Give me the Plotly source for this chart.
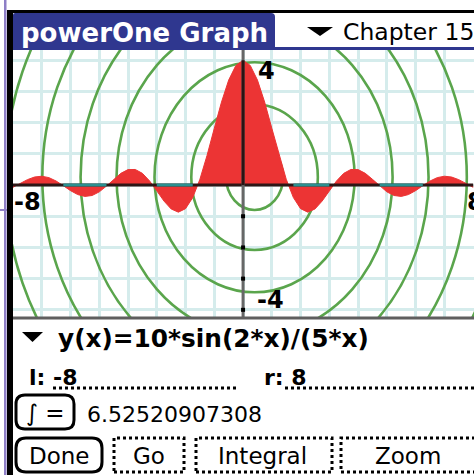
import plotly.graph_objects as go

# ---------------- data ----------------
x_vals = [-8.0, -7.75, -7.5, -7.25, -7.0, -6.75, -6.5, -6.25, -6.0, -5.75, -5.5, -5.25,
          -5.0, -4.75, -4.5, -4.25, -4.0, -3.75, -3.5, -3.25, -3.0, -2.75, -2.5, -2.25,
          -2.0, -1.75, -1.5, -1.25, -1.0, -0.75, -0.5, -0.25, 0.0, 0.25, 0.5, 0.75,
          1.0, 1.25, 1.5, 1.75, 2.0, 2.25, 2.5, 2.75, 3.0, 3.25, 3.5, 3.75,
          4.0, 4.25, 4.5, 4.75, 5.0, 5.25, 5.5, 5.75, 6.0, 6.25, 6.5, 6.75,
          7.0, 7.25, 7.5, 7.75, 8.0]
y_vals = [-0.072, 0.053, 0.173, 0.258, 0.283, 0.238, 0.129, -0.021, -0.179, -0.305, -0.364, -0.335,
          -0.218, -0.032, 0.183, 0.376, 0.495, 0.500, 0.375, 0.132, -0.186, -0.513, -0.767, -0.869,
          -0.757, -0.401, 0.188, 0.958, 1.819, 2.660, 3.366, 3.835, 4.000, 3.835, 3.366, 2.660,
          1.819, 0.958, 0.188, -0.401, -0.757, -0.869, -0.767, -0.513, -0.186, 0.132, 0.375, 0.500,
          0.495, 0.376, 0.183, -0.032, -0.218, -0.335, -0.364, -0.305, -0.179, -0.021, 0.129, 0.238,
          0.283, 0.258, 0.173, 0.053, -0.072]
x_tick_labels = ["-8", "8"]
y_tick_labels = ["4", "-4"]
y_tick_marks = [-1, -2, -3, -4]

title_text = "powerOne Graph"
category_text = "Chapter 15"
formula_text = "y(x)=10*sin(2*x)/(5*x)"
left_text = "l: -8"
right_text = "r: 8"
integral_text = "6.52520907308"
button_labels = ["Done", "Go", "Integral", "Zoom"]

# ---------------- geometry helpers ----------------
W_FIG, H_FIG = 474, 475
L, T, W, H = 13, 50, 461, 267
XR = [-8.0, 8.03]
YR = [-4.23, 4.33]


def px(x):
    return (x - L) / W


def py(y):
    return (T + H - y) / H


def rect(x0, y0, x1, y1, fill, layer="above"):
    return dict(type="rect", xref="paper", yref="paper", x0=px(x0), x1=px(x1),
                y0=py(y1), y1=py(y0), fillcolor=fill, line=dict(width=0), layer=layer)


def path_shape(pts, fill=None, line=None, closed=True):
    d = ""
    for cmd, coords in pts:
        d += cmd
        d += " ".join("%.5f,%.5f" % (px(a), py(b)) for a, b in coords) + " "
    if closed:
        d += "Z"
    s = dict(type="path", xref="paper", yref="paper", path=d, layer="above")
    s["fillcolor"] = fill if fill else "rgba(0,0,0,0)"
    s["line"] = line if line else dict(width=0)
    return s


def triangle(x0, x1, ytop, ybot):
    return path_shape([("M", [(x0, ytop)]), ("L", [(x1, ytop)]),
                       ("L", [((x0 + x1) / 2, ybot)])], fill="black")


def rrect(x0, y0, x1, y1, r, line):
    pts = [("M", [(x0 + r, y0)]), ("L", [(x1 - r, y0)]), ("Q", [(x1, y0), (x1, y0 + r)]),
           ("L", [(x1, y1 - r)]), ("Q", [(x1, y1), (x1 - r, y1)]), ("L", [(x0 + r, y1)]),
           ("Q", [(x0, y1), (x0, y1 - r)]), ("L", [(x0, y0 + r)]), ("Q", [(x0, y0), (x0 + r, y0)])]
    return path_shape(pts, line=line)


def text(s, x, y, size, color="black", bold=False, xanchor="left", family="DejaVu Sans"):
    return dict(text=s, xref="paper", yref="paper", x=px(x), y=py(y), xanchor=xanchor,
                yanchor="middle", showarrow=False,
                font=dict(family=family, size=size, color=color,
                          weight="bold" if bold else "normal"))


RED = "#ec3434"
GREEN = "#5aa54c"
GRID = "#d5ecec"

fig = go.Figure()

# filled integral area
fig.add_trace(go.Scatter(x=x_vals, y=y_vals, mode="lines", fill="tozeroy",
                         fillcolor=RED, line=dict(color=RED, width=1),
                         hoverinfo="skip", showlegend=False))

# x axis line (dark) and teal parts where the area lies below
fig.add_trace(go.Scatter(x=[x_vals[0], x_vals[-1]], y=[0, 0], mode="lines",
                         line=dict(color="#2e1616", width=3), hoverinfo="skip", showlegend=False))
fig.add_trace(go.Scatter(x=x_vals, y=[0 if v < 0 else None for v in y_vals], mode="lines",
                         line=dict(color="#2a9090", width=3), connectgaps=False,
                         hoverinfo="skip", showlegend=False))
# y axis line
fig.add_trace(go.Scatter(x=[0, 0], y=YR, mode="lines", line=dict(color="#676767", width=3),
                         hoverinfo="skip", showlegend=False))
fig.add_trace(go.Scatter(x=[0, 0], y=[0, max(y_vals)], mode="lines",
                         line=dict(color="#2a1414", width=3), hoverinfo="skip", showlegend=False))
fig.add_trace(go.Scatter(x=[0] * len(y_tick_marks), y=y_tick_marks, mode="markers",
                         marker=dict(symbol="square", size=4, color="black"),
                         hoverinfo="skip", showlegend=False))

shapes = []
# background concentric rings
ring_cx, ring_cy, ring_k = 0.4, 0.25, 1.06
for r in [0.99, 2.2, 3.48, 4.8, 6.05, 7.38, 8.68, 9.98, 11.28]:
    shapes.append(dict(type="circle", xref="x", yref="y", x0=ring_cx - r, x1=ring_cx + r,
                       y0=ring_cy - r * ring_k, y1=ring_cy + r * ring_k,
                       line=dict(color=GREEN, width=2.6), layer="between"))

# window chrome
shapes.append(rect(4, 0, 6.5, 475, "#8e7fc6"))
shapes.append(rect(0, 209, 7, 211, "#8e7fc6"))
shapes.append(rect(7, 10, 13, 475, "black"))
shapes.append(rect(7, 10, 474, 13, "black"))
shapes.append(path_shape([("M", [(13, 50)]), ("L", [(13, 15)]), ("Q", [(13, 13), (15, 13)]),
                          ("L", [(271, 13)]), ("Q", [(275, 13), (275, 17)]), ("L", [(275, 50)])],
                         fill="#2f378f"))
shapes.append(rect(275, 47, 474, 50, "#2f378f"))
shapes.append(rect(13, 316.5, 474, 319.5, "#5f5f5f"))
# dropdown triangles
shapes.append(triangle(307, 333, 27, 36))
shapes.append(triangle(22, 43, 332, 342))
# dotted field underlines
shapes.append(dict(type="line", xref="paper", yref="paper", x0=px(53), x1=px(238),
                   y0=py(388), y1=py(388), line=dict(color="black", width=3, dash="dot")))
shapes.append(dict(type="line", xref="paper", yref="paper", x0=px(285), x1=px(476),
                   y0=py(388), y1=py(388), line=dict(color="black", width=3, dash="dot")))
# buttons
shapes.append(rrect(16, 395, 74, 429, 9, dict(color="black", width=3)))
shapes.append(rrect(16, 438, 102, 472, 10, dict(color="black", width=3)))
for x0, x1 in [(114, 184), (196, 332), (341, 490)]:
    shapes.append(dict(type="rect", xref="paper", yref="paper", x0=px(x0), x1=px(x1),
                       y0=py(472), y1=py(438), line=dict(color="black", width=3, dash="dot")))

annotations = [
    text(title_text, 19, 33, 26, color="white", bold=True),
    text(category_text, 341, 32, 23.5),
    text(formula_text, 56, 338, 24.8, bold=True),
    text(left_text, 27, 377, 22, bold=True),
    text(right_text, 262, 377, 22, bold=True),
    text("\u222b =", 45, 413, 23, xanchor="center"),
    text(integral_text, 85, 414, 22),
    text(button_labels[0], 59, 456, 23, xanchor="center"),
    text(button_labels[1], 149, 456, 23, xanchor="center"),
    text(button_labels[2], 262, 456, 23, xanchor="center"),
    text(button_labels[3], 408, 456, 23, xanchor="center"),
]
lab_font = dict(family="DejaVu Sans", size=24, color="black", weight="bold")
annotations += [
    dict(text=y_tick_labels[0], x=0.8, y=3.65, xref="x", yref="y", showarrow=False, font=lab_font),
    dict(text=y_tick_labels[1], x=0.94, y=-3.69, xref="x", yref="y", showarrow=False, font=lab_font),
    dict(text=x_tick_labels[0], x=-7.5, y=-0.55, xref="x", yref="y", showarrow=False, font=lab_font),
    dict(text=x_tick_labels[1], x=7.72, y=-0.55, xref="x", yref="y", showarrow=False,
         xanchor="left", font=lab_font),
]

fig.update_layout(
    width=W_FIG, height=H_FIG,
    margin=dict(l=L, r=W_FIG - L - W, t=T, b=H_FIG - T - H),
    paper_bgcolor="white", plot_bgcolor="white",
    showlegend=False,
    xaxis=dict(range=XR, dtick=1, tick0=0, showgrid=True, gridcolor=GRID, gridwidth=3,
               zeroline=False, showticklabels=False, ticks="", showline=False, fixedrange=True),
    yaxis=dict(range=YR, dtick=1, tick0=0, showgrid=True, gridcolor=GRID, gridwidth=3,
               zeroline=False, showticklabels=False, ticks="", showline=False, fixedrange=True),
    shapes=shapes,
    annotations=annotations,
)

fig.write_html("out.html", config={"displayModeBar": False},
               post_script="document.body.style.margin='0';document.body.style.overflow='hidden';")
